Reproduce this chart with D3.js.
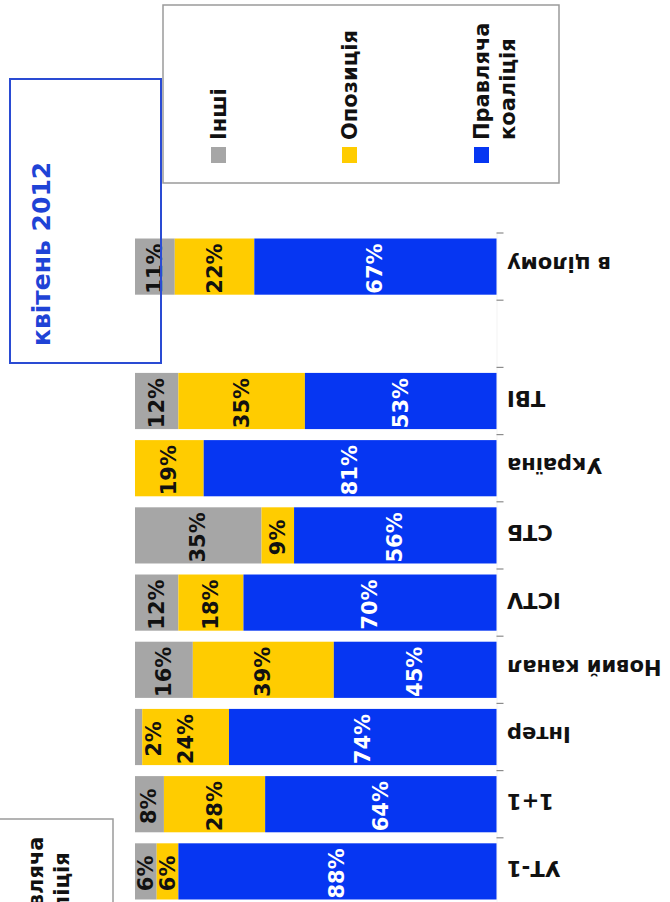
<!DOCTYPE html>
<html><head><meta charset="utf-8">
<script src="https://cdn.jsdelivr.net/npm/d3@7"></script>
<style>
html,body{margin:0;padding:0;background:#fff;overflow:hidden;}
svg{display:block;font-family:"DejaVu Sans",Verdana,sans-serif;}
</style></head>
<body>
<svg id="chart" width="670" height="902"></svg>
<script>
const categories = ["в цілому", "", "ТВІ", "Україна", "СТБ", "ICTV", "Новий канал", "Інтер", "1+1", "УТ-1"];
const seriesNames = ["Інші", "Опозиція", "Правляча коаліція"];
const others     = [11, null, 12, 0, 35, 12, 16, 2, 8, 6];
const opposition = [22, null, 35, 19, 9, 18, 39, 24, 28, 6];
const coalition  = [67, null, 53, 81, 56, 70, 45, 74, 64, 88];
const colors = ["#a6a6a6", "#ffcc00", "#0636f2"];
const labelColors = ["#111", "#111", "#fff"];
const title = "квітень 2012";

const svg = d3.select("#chart");
const table = categories.map((c, i) => ({cat: c, key: "k" + i, "Інші": others[i], "Опозиція": opposition[i], "Правляча коаліція": coalition[i]}));

const y = d3.scaleBand().domain(table.map(d => d.key)).range([233, 905]).paddingInner(0.164).paddingOuter(0.082);
const x = d3.scaleLinear().domain([0, 100]).range([135, 496.5]);

const stack = d3.stack().keys(seriesNames).value((d, k) => d[k] == null ? 0 : d[k]);
const layers = stack(table);

// axis line + ticks at band boundaries
const step = y.step();
const gAxis = svg.append("g");
gAxis.append("line").attr("x1", x(100) + 0.5).attr("x2", x(100) + 0.5)
  .attr("y1", y.range()[0]).attr("y2", y.range()[1]).attr("stroke", "#f3f3f3").attr("stroke-width", 1);
gAxis.selectAll("line.tick").data(table).join("line").attr("class", "tick")
  .attr("x1", x(100)).attr("x2", x(100) + 7)
  .attr("y1", d => y(d.key) - step * y.paddingInner() / 2)
  .attr("y2", d => y(d.key) - step * y.paddingInner() / 2)
  .attr("stroke", "#8c8c8c").attr("stroke-width", 1.2);

// bars
layers.forEach((layer, li) => {
  const g = svg.append("g");
  g.selectAll("rect").data(layer.filter(d => d.data[seriesNames[li]] > 0)).join("rect")
    .attr("x", d => x(d[0])).attr("width", d => x(d[1]) - x(d[0]))
    .attr("y", d => y(d.data.key)).attr("height", y.bandwidth())
    .attr("fill", colors[li]);
});

// value labels
layers.forEach((layer, li) => {
  const g = svg.append("g");
  g.selectAll("text").data(layer.filter(d => d.data[seriesNames[li]] > 0)).join("text")
    .attr("transform", d => {
      const w = x(d[1]) - x(d[0]);
      const cx = w < 12 ? x(d[1]) + 12 : (x(d[0]) + x(d[1])) / 2;
      const cy = y(d.data.key) + y.bandwidth() / 2 + 2;
      return `translate(${cx},${cy}) rotate(-90)`;
    })
    .attr("text-anchor", "middle").attr("dominant-baseline", "central")
    .attr("font-size", 21).attr("font-weight", "bold").attr("fill", labelColors[li])
    .text(d => d.data[seriesNames[li]] + "%");
});

// category labels (upside down)
svg.append("g").selectAll("text").data(table.filter(d => d.cat)).join("text")
  .attr("transform", d => `translate(507,${y(d.key) + y.bandwidth() / 2 - 3}) rotate(180)`)
  .attr("text-anchor", "end").attr("dominant-baseline", "central")
  .attr("font-size", 21).attr("font-weight", "bold").attr("fill", "#111")
  .text(d => d.cat);

// title box
svg.append("rect").attr("x", 10).attr("y", 79).attr("width", 151).attr("height", 284)
  .attr("fill", "none").attr("stroke", "#2a4bd3").attr("stroke-width", 2);
svg.append("text").attr("transform", "translate(50,346) rotate(-90)")
  .attr("font-size", 25).attr("font-weight", "bold").attr("fill", "#1f43d6").text(title);

// legend
function drawLegend(dx, dy) {
  const g = svg.append("g").attr("transform", `translate(${dx},${dy})`);
  g.append("rect").attr("x", 163).attr("y", 5).attr("width", 396).attr("height", 178)
    .attr("fill", "#fff").attr("stroke", "#9a9a9a").attr("stroke-width", 1.5);
  const items = [
    {name: seriesNames[0], lines: ["Інші"], mx: 211},
    {name: seriesNames[1], lines: ["Опозиція"], mx: 342},
    {name: seriesNames[2], lines: ["Правляча", "коаліція"], mx: 474}
  ];
  items.forEach((it, i) => {
    g.append("rect").attr("x", it.mx).attr("y", 147).attr("width", 15).attr("height", 16).attr("fill", colors[i]);
    it.lines.forEach((ln, j) => {
      g.append("text").attr("transform", `translate(${it.mx + 15 + j * 26},140) rotate(-90)`)
        .attr("font-size", 21).attr("font-weight", "bold").attr("fill", "#111").text(ln);
    });
  });
}
drawLegend(0, 0);
drawLegend(-446, 814);
</script>
</body></html>
